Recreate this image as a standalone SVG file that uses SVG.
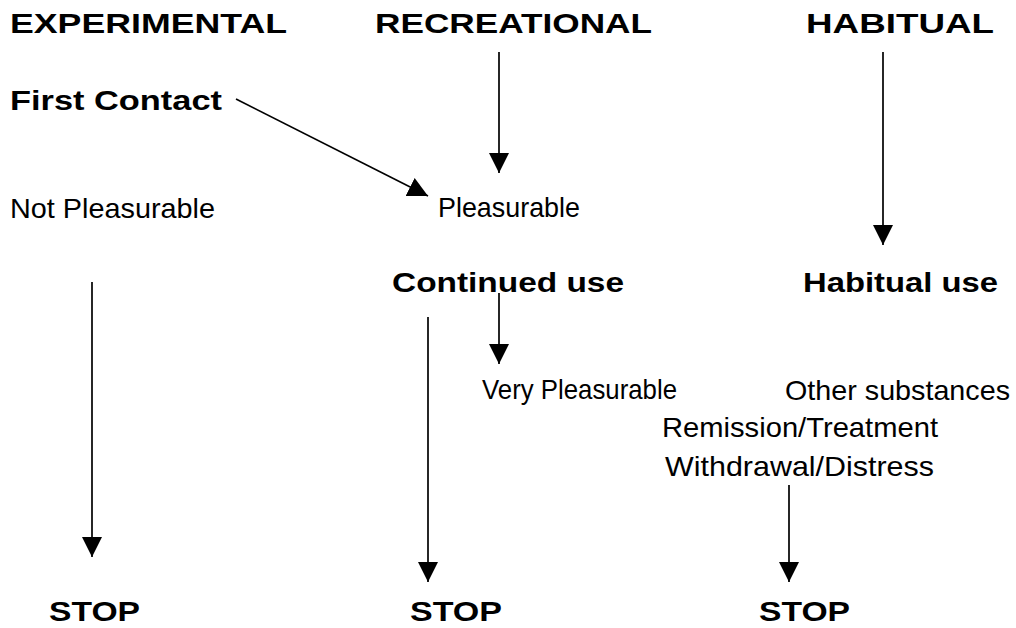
<svg xmlns="http://www.w3.org/2000/svg" width="1016" height="628" viewBox="0 0 1016 628">
<defs>
<style>
.b{font-family:"Liberation Sans",Arial,sans-serif;font-weight:bold;font-size:28px;fill:#000}
.r{font-family:"Liberation Sans",Arial,sans-serif;font-size:28px;fill:#000}
.c line{stroke:#000;stroke-width:1.7;fill:none}
</style>
<marker id="ah" markerUnits="userSpaceOnUse" markerWidth="20" markerHeight="20" refX="20" refY="10" orient="auto" viewBox="0 0 20 20">
<path d="M0,0 L20,10 L0,20 z" fill="#000"/>
</marker>
</defs>
<rect width="1016" height="628" fill="#fff"/>
<g id="experimental"><text class="b" x="10" y="33" textLength="277" lengthAdjust="spacingAndGlyphs">EXPERIMENTAL</text></g>
<g id="recreational"><text class="b" x="375" y="33" textLength="277" lengthAdjust="spacingAndGlyphs">RECREATIONAL</text></g>
<g id="habitual"><text class="b" x="806" y="33" textLength="188" lengthAdjust="spacingAndGlyphs">HABITUAL</text></g>
<g id="first-contact"><text class="b" x="10" y="110" textLength="212" lengthAdjust="spacingAndGlyphs">First Contact</text></g>
<g id="not-pleasurable"><text class="r" x="10" y="218" textLength="205" lengthAdjust="spacingAndGlyphs">Not Pleasurable</text></g>
<g id="pleasurable"><text class="r" x="438" y="217" textLength="142" lengthAdjust="spacingAndGlyphs">Pleasurable</text></g>
<g id="continued-use"><text class="b" x="392" y="292" textLength="232" lengthAdjust="spacingAndGlyphs">Continued use</text></g>
<g id="habitual-use"><text class="b" x="803" y="292" textLength="195" lengthAdjust="spacingAndGlyphs">Habitual use</text></g>
<g id="very-pleasurable"><text class="r" x="482" y="399" textLength="195" lengthAdjust="spacingAndGlyphs">Very Pleasurable</text></g>
<g id="other-substances"><text class="r" x="785" y="400" textLength="225" lengthAdjust="spacingAndGlyphs">Other substances</text></g>
<g id="remission"><text class="r" x="662" y="437" textLength="276" lengthAdjust="spacingAndGlyphs">Remission/Treatment</text></g>
<g id="withdrawal"><text class="r" x="665" y="476" textLength="269" lengthAdjust="spacingAndGlyphs">Withdrawal/Distress</text></g>
<g id="stop1"><text class="b" x="49" y="621" textLength="91" lengthAdjust="spacingAndGlyphs">STOP</text></g>
<g id="stop2"><text class="b" x="410" y="621" textLength="92" lengthAdjust="spacingAndGlyphs">STOP</text></g>
<g id="stop3"><text class="b" x="759" y="621" textLength="91" lengthAdjust="spacingAndGlyphs">STOP</text></g>
<g id="connectors" class="c">
<line x1="236" y1="99" x2="428" y2="196" marker-end="url(#ah)"/>
<line x1="499" y1="52" x2="499" y2="173" marker-end="url(#ah)"/>
<line x1="883" y1="52" x2="883" y2="245" marker-end="url(#ah)"/>
<line x1="499" y1="293" x2="499" y2="364" marker-end="url(#ah)"/>
<line x1="92" y1="282" x2="92" y2="557" marker-end="url(#ah)"/>
<line x1="428" y1="317" x2="428" y2="582" marker-end="url(#ah)"/>
<line x1="789" y1="485" x2="789" y2="582" marker-end="url(#ah)"/>
</g>
</svg>
